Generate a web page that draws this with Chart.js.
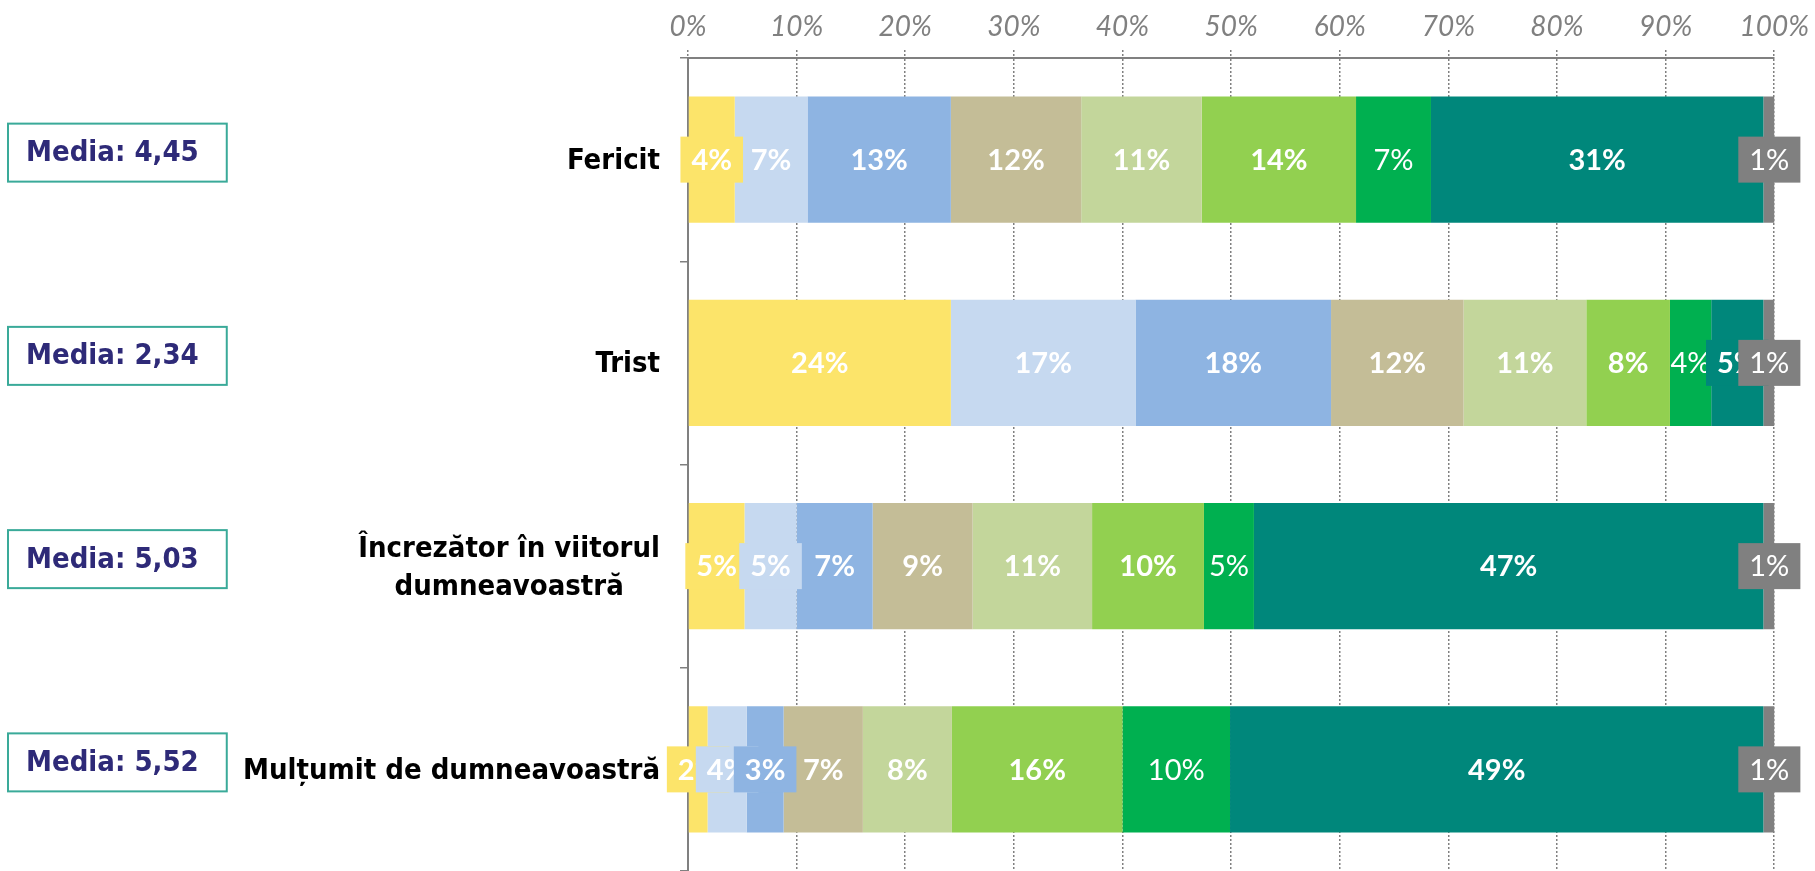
<!DOCTYPE html>
<html>
<head>
<meta charset="utf-8">
<script src="https://cdn.jsdelivr.net/npm/chart.js@4/dist/chart.umd.min.js"></script>
<style>
  html, body { margin: 0; padding: 0; background: #ffffff; }
  #cadru { width: 1815px; height: 871px; }
</style>
</head>
<body>
<div id="cadru"><canvas id="grafic" width="1815" height="871"></canvas></div>
<script>
// Datele graficului
const categorii = ['Fericit', 'Trist', ['Încrezător în viitorul', 'dumneavoastră'], 'Mulțumit de dumneavoastră'];
const medii = ['4,45', '2,34', '5,03', '5,52'];
const eticheteX = ['0%', '10%', '20%', '30%', '40%', '50%', '60%', '70%', '80%', '90%', '100%'];
const serii = ['1', '2', '3', '4', '5', '6', '7', '8', 'NS/NR'];

const valori1 = [4.3, 24.2, 5.2, 1.8];
const valori2 = [6.7, 17.0, 4.8, 3.6];
const valori3 = [13.2, 18.0, 7.0, 3.4];
const valori4 = [12.0, 12.2, 9.2, 7.3];
const valori5 = [11.1, 11.3, 11.0, 8.2];
const valori6 = [14.2, 7.7, 10.3, 15.7];
const valori7 = [6.9, 3.8, 4.6, 9.9];
const valori8 = [30.6, 4.8, 46.9, 49.1];
const valoriNS = [1.1, 1.1, 1.1, 1.1];

const toateValorile = [valori1, valori2, valori3, valori4, valori5, valori6, valori7, valori8, valoriNS];

// Culori si fonturi
const culori = ['#FCE46A', '#C6D9F0', '#8EB4E2', '#C4BD97', '#C3D69B', '#92D050', '#00B050', '#00877B', '#808080'];
const seriiNormale = [6, 8]; // etichete fara bold
const gri = '#808080';
const fontEticheta = 'Lato';
const fontCategorie = '"DejaVu Sans Condensed"';

// 1. Etichetele procentuale din segmente
const eticheteSegmente = {
    id: 'eticheteSegmente',
    afterDatasetsDraw(chart) {
        const ctx = chart.ctx;
        ctx.save();
        chart.data.datasets.forEach((ds, di) => {
            const meta = chart.getDatasetMeta(di);
            meta.data.forEach((bara, i) => {
                const text = Math.round(ds.data[i]) + '%';
                const normal = seriiNormale.includes(di);
                ctx.font = (normal ? '' : 'bold ') + '29px ' + fontEticheta;
                const w = ctx.measureText(text).width;
                const stanga = Math.min(bara.x, bara.base);
                const dreapta = Math.max(bara.x, bara.base);
                const cx = (stanga + dreapta) / 2;
                // caseta colorata cand textul nu incape in segment
                if (w + (normal ? 0 : 18) > dreapta - stanga) {
                    ctx.fillStyle = ds.backgroundColor;
                    ctx.fillRect(cx - w / 2 - 11, bara.y - 23, w + 22, 46);
                }
                ctx.fillStyle = '#ffffff';
                ctx.textAlign = 'center';
                ctx.textBaseline = 'middle';
                ctx.fillText(text, cx, bara.y + 1);
            });
        });
        ctx.restore();
    },
    // 2. Numele categoriilor si casetele cu media
    afterDraw(chart) {
        const ctx = chart.ctx;
        const y = chart.scales.y;
        ctx.save();
        categorii.forEach((cat, i) => {
            const cy = y.getPixelForValue(i);
            const linii = Array.isArray(cat) ? cat : [cat];
            ctx.font = 'bold 29px ' + fontCategorie;
            ctx.fillStyle = '#000000';
            ctx.textBaseline = 'middle';
            ctx.textAlign = 'center';
            const latime = Math.max(...linii.map(l => ctx.measureText(l).width));
            const centru = 660 - latime / 2;
            linii.forEach((l, k) => {
                ctx.fillText(l, centru, cy + (k - (linii.length - 1) / 2) * 38 + 2);
            });

            // caseta Media
            const text = 'Media: ' + medii[i];
            ctx.font = 'bold 29px ' + fontCategorie;
            const tw = ctx.measureText(text).width;
            ctx.fillStyle = '#ffffff';
            ctx.strokeStyle = '#3AAA99';
            ctx.lineWidth = 2;
            ctx.fillRect(8, cy - 36, tw + 46, 58);
            ctx.strokeRect(8, cy - 36, tw + 46, 58);
            ctx.fillStyle = '#2E2A78';
            ctx.textAlign = 'left';
            ctx.fillText(text, 26, cy - 6);
        });
        ctx.restore();
    }
};

const grafic = new Chart(document.getElementById('grafic').getContext('2d'), {
    type: 'bar',
    data: {
        labels: categorii,
        datasets: serii.map((nume, k) => ({
            label: nume,
            data: toateValorile[k],
            backgroundColor: culori[k],
            borderWidth: 0,
            barPercentage: 0.62,
            categoryPercentage: 1
        }))
    },
    options: {
        indexAxis: 'y',
        responsive: false,
        animation: false,
        devicePixelRatio: 1,
        layout: { padding: { left: 680, right: 32, top: 0, bottom: 0 } },
        plugins: {
            legend: { display: false },
            tooltip: { enabled: false }
        },
        scales: {
            x: {
                position: 'top',
                stacked: true,
                min: 0,
                max: 100,
                afterFit(scale) { scale.height = 58; },
                ticks: {
                    stepSize: 10,
                    padding: 6,
                    color: gri,
                    font: { family: fontEticheta, size: 28, style: 'italic' },
                    callback: (v, i) => eticheteX[i]
                },
                // linii de grila punctate, axa continua
                border: {
                    display: true,
                    color: gri,
                    width: 2,
                    dash: (c) => c.type === 'tick' ? [2, 2] : []
                },
                grid: {
                    color: gri,
                    lineWidth: 1.5,
                    tickLength: 8,
                    tickColor: gri,
                    tickBorderDash: [2, 2]
                }
            },
            y: {
                stacked: true,
                afterFit(scale) { scale.width = 8; },
                ticks: { display: false },
                border: { display: true, color: gri, width: 2 },
                grid: {
                    offset: true,
                    drawOnChartArea: false,
                    tickLength: 8,
                    color: gri,
                    lineWidth: 1.5
                }
            }
        }
    },
    plugins: [eticheteSegmente]
});
</script>
</body>
</html>
